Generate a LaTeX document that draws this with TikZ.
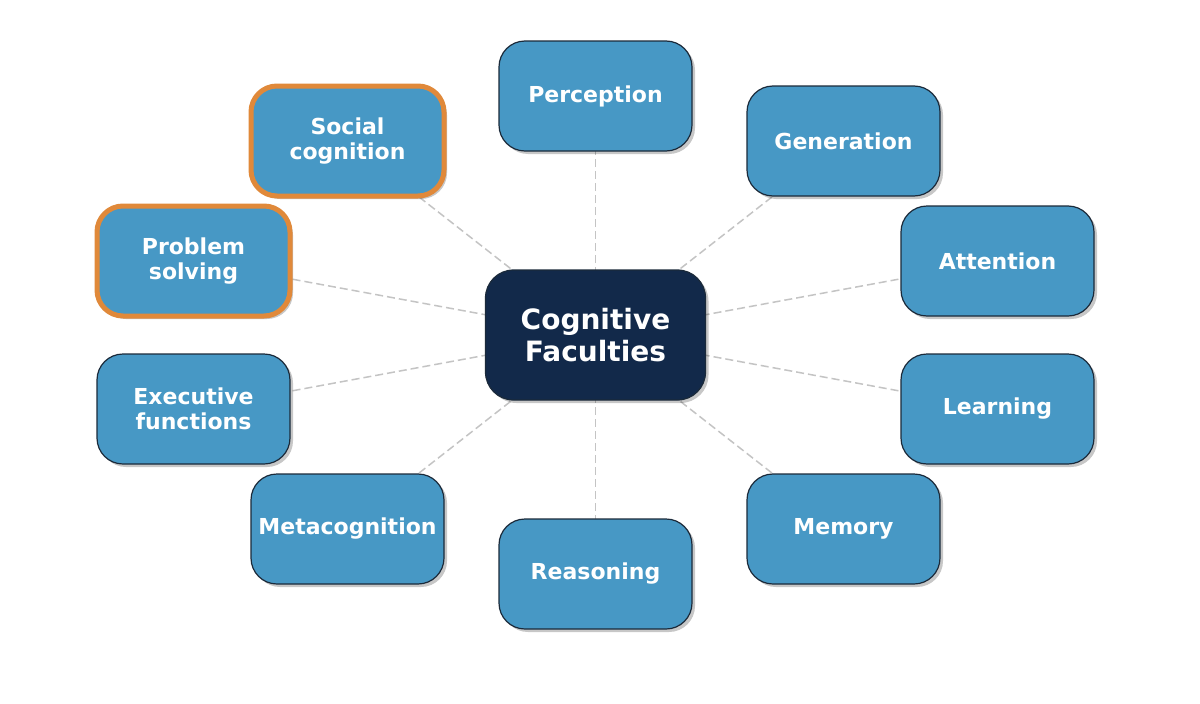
\documentclass[tikz,border=0pt]{standalone}
\usepackage{fontspec}
\setmainfont{DejaVu Sans}
\usetikzlibrary{shadows}
\definecolor{boxblue}{HTML}{4798C5}
\definecolor{navy}{HTML}{12294A}
\definecolor{hiorange}{HTML}{E0893A}
\definecolor{edgegray}{HTML}{C4C4C4}
\definecolor{outline}{HTML}{1B2A3A}
\tikzset{
  faculty/.style={draw=outline, line width=1.2pt, fill=boxblue, rounded corners=26pt,
    minimum width=193pt, minimum height=110pt, align=center, text=white,
    font=\bfseries\fontsize{22pt}{25.5pt}\selectfont,
    drop shadow={shadow xshift=3pt, shadow yshift=-3pt, fill=black, opacity=0.22}},
  highlight/.style={draw=hiorange, line width=5pt},
  hub/.style={draw=outline, line width=1.2pt, fill=navy, rounded corners=28pt,
    minimum width=220pt, minimum height=130pt, align=center, text=white,
    font=\bfseries\fontsize{28pt}{32pt}\selectfont,
    drop shadow={shadow xshift=3pt, shadow yshift=-3pt, fill=black, opacity=0.22}},
  link/.style={draw=edgegray, line width=1.5pt, dash pattern=on 8pt off 4pt}
}
\begin{document}
\begin{tikzpicture}[x=1pt,y=-1pt]
\useasboundingbox (0,0) rectangle (1200,704);
\fill[white] (0,0) rectangle (1200,704);
\coordinate (hc) at (595.5,335);
\coordinate (p1) at (595.5,96);
\coordinate (p2) at (843.5,141);
\coordinate (p3) at (997.5,261);
\coordinate (p4) at (997.5,409);
\coordinate (p5) at (843.5,529);
\coordinate (p6) at (595.5,574);
\coordinate (p7) at (347.5,529);
\coordinate (p8) at (193.5,409);
\coordinate (p9) at (193.5,261);
\coordinate (p10) at (347.5,141);
\foreach \i in {1,...,10} \draw[link] (hc) -- (p\i);
\node[hub] (center) at (hc) {Cognitive\\Faculties};
\node[faculty] (perception) at (p1) {Perception};
\node[faculty] (generation) at (p2) {Generation};
\node[faculty] (attention) at (p3) {Attention};
\node[faculty] (learning) at (p4) {Learning};
\node[faculty] (memory) at (p5) {Memory};
\node[faculty] (reasoning) at (p6) {Reasoning};
\node[faculty] (metacognition) at (p7) {Metacognition};
\node[faculty] (executive) at (p8) {Executive\\functions};
\node[faculty, highlight] (problem) at (p9) {Problem\\solving};
\node[faculty, highlight] (social) at (p10) {Social\\cognition};
\end{tikzpicture}
\end{document}
